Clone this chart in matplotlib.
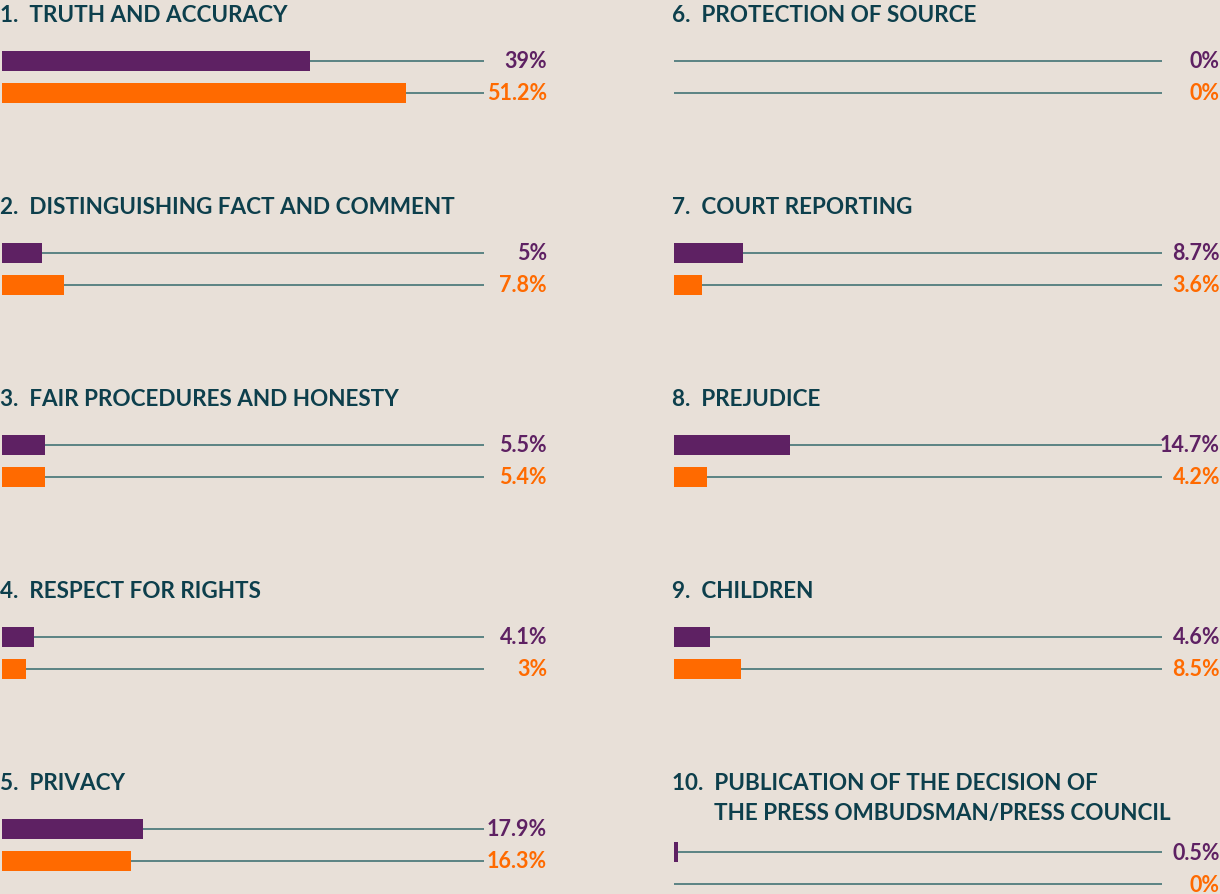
import matplotlib
matplotlib.use("Agg")
import matplotlib.pyplot as plt

# data
categories = [
    "1.  TRUTH AND ACCURACY",
    "2.  DISTINGUISHING FACT AND COMMENT",
    "3.  FAIR PROCEDURES AND HONESTY",
    "4.  RESPECT FOR RIGHTS",
    "5.  PRIVACY",
    "6.  PROTECTION OF SOURCE",
    "7.  COURT REPORTING",
    "8.  PREJUDICE",
    "9.  CHILDREN",
    "10.  PUBLICATION OF THE DECISION OF\nTHE PRESS OMBUDSMAN/PRESS COUNCIL",
]
purple_vals = [39, 5, 5.5, 4.1, 17.9, 0, 8.7, 14.7, 4.6, 0.5]
orange_vals = [51.2, 7.8, 5.4, 3, 16.3, 0, 3.6, 4.2, 8.5, 0]
purple_labels = ["39%", "5%", "5.5%", "4.1%", "17.9%", "0%", "8.7%", "14.7%", "4.6%", "0.5%"]
orange_labels = ["51.2%", "7.8%", "5.4%", "3%", "16.3%", "0%", "3.6%", "4.2%", "8.5%", "0%"]

BG = "#e8e0d8"
PURPLE = "#5e2163"
ORANGE = "#ff6a00"
TEAL = "#0d3f4c"
LINE = "#5b8383"
FONT = ["Lato", "DejaVu Sans"]

W, H = 1220, 895
PX_PER_PCT = 7.9

fig = plt.figure(figsize=(W / 100, H / 100), dpi=100)
fig.patch.set_facecolor(BG)

col_x = [2, 674]          # bar start (px)
col_right = [547, 1220]   # label right edge (px)
col_line_end = [484, 1162]
title_y = [15, 207, 400, 592, 784]
bar_y = [62, 254, 446, 638, 830]

for i, cat in enumerate(categories):
    col = i // 5
    row = i % 5
    x0 = col_x[col]
    x1 = col_right[col]
    ty = title_y[row]
    py = bar_y[row]
    lines = cat.split("\n")
    fig.text((x0 - 2) / W, 1 - ty / H, lines[0], fontsize=16.2, fontweight="bold",
             color=TEAL, family=FONT, va="center", ha="left")
    if len(lines) > 1:
        # second line of the long title sits under the text, not the number
        fig.text(714 / W, 1 - (ty + 30) / H, lines[1], fontsize=16.2, fontweight="bold",
                 color=TEAL, family=FONT, va="center", ha="left")
        py = 853
    # axes for the bars, data y in pixels
    ax_h = 64
    top = py - 16
    ax = fig.add_axes([x0 / W, 1 - (top + ax_h) / H, (x1 - x0) / W, ax_h / H])
    ax.set_xlim(0, (x1 - x0) / PX_PER_PCT)
    ax.set_ylim(ax_h, 0)
    ax.axis("off")
    line_end = (col_line_end[col] - x0) / PX_PER_PCT
    for yc, val, lab, c in [(16, purple_vals[i], purple_labels[i], PURPLE),
                            (48, orange_vals[i], orange_labels[i], ORANGE)]:
        ax.plot([0, line_end], [yc, yc], color=LINE, lw=1.4, zorder=1,
                solid_capstyle="butt")
        if val > 0:
            ax.barh(yc, val, height=20, color=c, zorder=2)
        ax.text((x1 - x0) / PX_PER_PCT, yc, lab, color=c, fontsize=15.5,
                fontweight="bold", family=FONT, ha="right", va="center")

fig.savefig("out.png", dpi=100, facecolor=BG)
